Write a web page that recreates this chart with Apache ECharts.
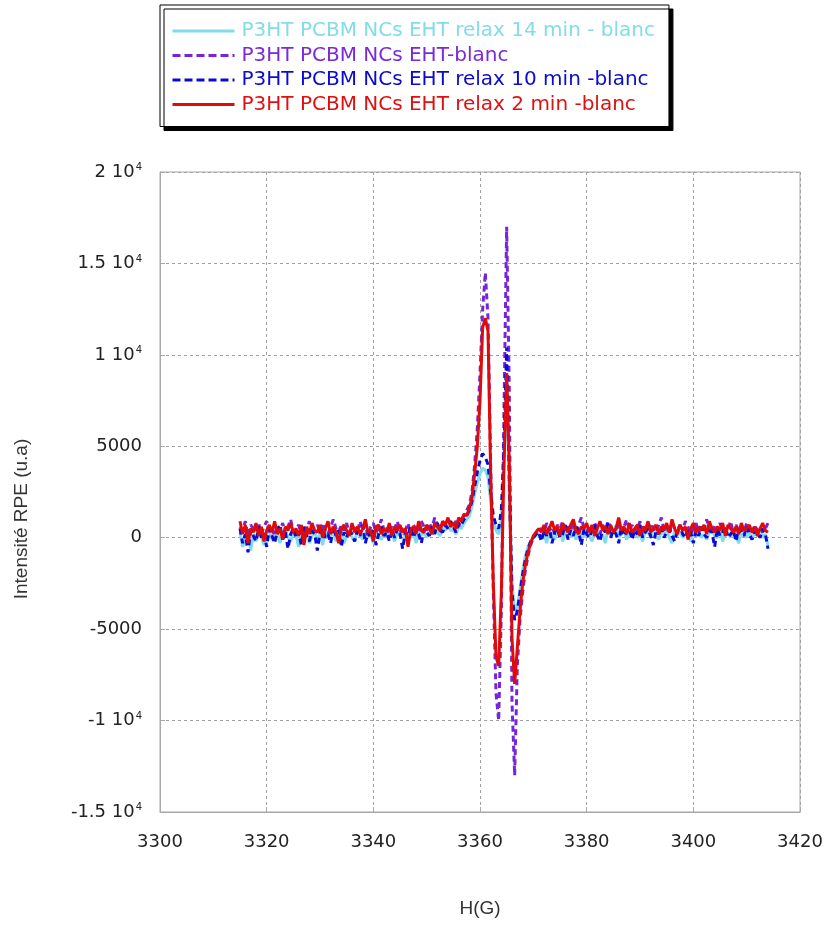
<!DOCTYPE html>
<html><head><meta charset="utf-8">
<script src="https://cdn.jsdelivr.net/npm/echarts@6/dist/echarts.min.js"></script>
<style>html,body{margin:0;padding:0;background:#fff}#c{width:824px;height:925px}</style>
</head><body><div id="c"></div>
<script>
// Field sampling: 3315 G to 3414 G, step 0.5 G (199 points)
var H_START = 3315, H_STEP = 0.5;
var xTicks = [3300, 3320, 3340, 3360, 3380, 3400, 3420];
var yTickValues = [20000, 15000, 10000, 5000, 0, -5000, -10000, -15000];
var yTickLabels = [['2 10','4'], ['1.5 10','4'], ['1 10','4'], ['5000',''], ['0',''], ['-5000',''], ['-1 10','4'], ['-1.5 10','4']];
var seriesNames = ['P3HT PCBM NCs EHT relax 14 min - blanc', 'P3HT PCBM NCs EHT-blanc', 'P3HT PCBM NCs EHT relax 10 min -blanc', 'P3HT PCBM NCs EHT relax 2 min -blanc'];

// Red: relax 2 min
var redLeft = [900,200,700,-300,500,300,800,100,600,-200,400,700,300,900,200,500,-100,600,400,800,
300,500,100,700,-400,600,200,800,400,300,700,0,500,900,200,600,300,-300,500,700,
400,100,800,300,600,200,500,1000,300,400,-200,600,700,200,500,300,800,100,600,400,
700,300,500,-500,400,600,200,900,400,300,700,500,200,800,600,400,900,700,1100,600];
var redCenter = [800,500,1100,900,1300,1200,1600,2200,3500,5000,7500,11500,12000,11300,3500,-2500,-6500,-7000,-3000,4000,9000,4000,-5500,-8000,-6000,-4000,-2500,-1500,-800,-300,100,300,500];
var redRight = [300,700,200,500,900,400,600,100,800,500,300,700,1000,400,200,600,500,800,300,700,
100,500,900,400,600,200,700,300,500,1100,400,600,200,800,300,500,700,100,600,400,
900,300,500,700,200,600,400,800,300,1000,500,200,700,400,600,-100,500,800,300,600,
400,700,200,900,500,300,600,400,800,100,700,500,300,600,200,800,400,500,700,300,
600,100,500,800,400,300];

// Purple: EHT-blanc
var purpleLeft = [600,400,900,100,700,500,300,800,200,600,900,300,500,100,700,400,800,200,600,1000,
300,500,700,200,600,400,900,100,500,700,300,800,400,200,600,1000,500,300,700,400,
800,200,600,500,300,900,400,700,100,600,800,300,500,1000,400,600,200,700,500,900,
300,600,400,800,200,700,500,300,900,600,400,800,500,1100,700,400,900,600,1000,800];
var purpleCenter = [700,900,600,1000,1200,1500,1800,2500,4000,6000,9000,12500,14500,12000,4000,-3000,-8500,-10000,-4000,7000,17000,8000,-9000,-13000,-7000,-4500,-3000,-1800,-1000,-400,0,200,400];
var purpleRight = [500,300,800,400,600,200,700,500,900,300,600,400,800,200,700,1100,500,300,600,400,
800,500,200,700,400,900,600,300,500,800,200,600,1000,400,700,300,500,900,200,600,
400,800,500,300,700,1100,400,600,200,800,500,300,700,400,900,600,200,500,800,300,
600,400,1000,500,200,700,400,800,300,600,500,900,200,700,400,600,300,800,500,200,
700,400,600,300,500,800];

// Blue: relax 10 min
var blueLeft = [500,-300,200,-800,400,100,-200,600,0,300,-500,500,100,-300,400,700,-100,300,-600,200,
500,0,300,-400,600,100,-200,400,200,-700,300,500,0,200,-300,600,100,400,-500,300,
0,500,200,-200,400,100,700,-300,300,0,500,-400,200,600,100,300,-200,400,0,500,
200,-600,300,100,600,0,400,200,-300,500,300,100,600,200,800,400,300,700,500,900];
var blueCenter = [600,300,800,700,1000,1200,1500,2000,2800,3600,4200,4600,4400,4000,2500,1200,700,500,1500,5000,10400,3000,-3000,-4500,-4000,-3000,-2000,-1200,-600,-200,0,200,300];
var blueRight = [-200,400,100,600,-300,300,500,0,200,700,-100,400,100,600,300,-400,500,200,0,400,
700,100,-200,500,300,800,0,400,200,-300,600,100,300,500,-100,400,200,700,0,300,
500,100,-400,400,200,600,0,300,500,100,-200,400,700,200,0,500,300,-300,400,100,
600,200,0,400,300,-500,500,100,300,600,0,200,400,-200,500,300,100,600,200,-100,
400,300,0,500,200,-600];

// Cyan: relax 14 min
var cyanLeft = [300,-500,0,400,-700,200,-200,300,100,-400,200,400,-100,0,300,-300,200,500,0,-200,
300,100,-500,200,0,400,-300,100,300,-100,200,-400,400,0,100,300,-200,200,500,-300,
100,300,0,-200,400,200,-100,300,0,200,-300,400,100,-100,300,0,500,200,-200,300,
100,400,-100,200,0,300,-300,500,100,300,0,400,200,600,300,100,500,400,700,400];
var cyanCenter = [400,200,600,500,800,1000,1200,1700,2400,3000,3500,3800,3700,3300,2000,1000,400,200,1000,4000,8500,2500,-2500,-4000,-3800,-2800,-1800,-1000,-500,-200,0,100,200];
var cyanRight = [0,200,-300,400,100,-100,300,500,-200,200,400,0,300,-100,500,200,0,600,100,-200,
300,400,0,200,-300,500,100,300,700,0,200,400,-100,300,100,500,0,200,-200,400,
300,0,600,100,-100,300,200,500,0,-300,400,100,300,0,200,500,-200,300,100,400,
0,200,-100,300,500,100,0,400,-200,200,300,0,500,100,-300,300,200,0,400,-100,
300,100,500,0,200,-400];

var colors = ['#80dcea', '#7626d6', '#0a0ad8', '#e00a0a'];
var textColors = ['#80dde9', '#7a2ad8', '#0a0ad0', '#e01010'];

function pair(vals) {
  var out = [];
  for (var i = 0; i < vals.length; i++) out.push([H_START + H_STEP * i, vals[i]]);
  return out;
}
var allVals = [
  cyanLeft.concat(cyanCenter, cyanRight),
  purpleLeft.concat(purpleCenter, purpleRight),
  blueLeft.concat(blueCenter, blueRight),
  redLeft.concat(redCenter, redRight)
];
var dashTypes = ['solid', [6, 4], [6, 4], 'solid'];
var legendDash = ['solid', [8, 4], [8, 4], 'solid'];

var chart = echarts.init(document.getElementById('c'));
var font = '"Liberation Sans", Arial, sans-serif';
var tickFont = '"DejaVu Sans", sans-serif';
chart.setOption({
  animation: false,
  backgroundColor: '#ffffff',
  textStyle: {fontFamily: font},
  grid: {left: 160, right: 24, top: 172, bottom: 113, show: true, borderColor: '#a8a8a8', borderWidth: 1,
    containLabel: false, outerBoundsMode: 'none'},
  legend: {
    orient: 'vertical', left: 160, top: 5,
    padding: [16, 14, 12, 11],
    itemGap: 4.5, itemWidth: 62, itemHeight: 19,
    backgroundColor: '#ffffff', borderColor: '#000', borderWidth: 1,
    shadowColor: '#000', shadowBlur: 0, shadowOffsetX: 4, shadowOffsetY: 4,
    itemStyle: {opacity: 0},
    lineStyle: {width: 3},
    textStyle: {fontSize: 20, fontFamily: tickFont, padding: [0, 0, 0, 2]},
    data: seriesNames.map(function (n, i) {
      return {name: n, textStyle: {color: textColors[i]}, lineStyle: {type: legendDash[i], width: 3}};
    })
  },
  xAxis: {
    type: 'value', min: 3300, max: 3420, interval: 20,
    axisLine: {show: true, onZero: false, lineStyle: {color: '#a8a8a8'}},
    axisTick: {show: true, inside: true, length: 5, lineStyle: {color: '#a8a8a8'}},
    axisLabel: {margin: 21, fontSize: 18, color: '#222', fontFamily: tickFont,
      formatter: function (v) { return xTicks.indexOf(v) >= 0 ? String(v) : ''; }},
    splitLine: {show: true, lineStyle: {color: '#a0a0a0', type: [3, 3]}},
    name: 'H(G)', nameLocation: 'middle', nameGap: 87,
    nameTextStyle: {fontSize: 19, color: '#333', fontFamily: font}
  },
  yAxis: {
    type: 'value', min: -15000, max: 20000, interval: 5000,
    axisLine: {show: true, onZero: false, lineStyle: {color: '#a8a8a8'}},
    axisTick: {show: true, inside: true, length: 5, lineStyle: {color: '#a8a8a8'}},
    axisLabel: {margin: 18, fontSize: 18, color: '#222', fontFamily: tickFont,
      formatter: function (v) {
        var k = yTickValues.indexOf(v);
        if (k < 0) return '';
        var p = yTickLabels[k];
        return p[1] ? '{a|' + p[0] + '}{s|' + p[1] + '}' : '{a|' + p[0] + '}';
      },
      rich: {
        a: {fontSize: 18, color: '#222', fontFamily: tickFont},
        s: {fontSize: 10, color: '#222', fontFamily: tickFont, verticalAlign: 'top', padding: [0, 0, 9, 1]}
      }
    },
    splitLine: {show: true, lineStyle: {color: '#a0a0a0', type: [3, 3]}},
    name: 'Intensité RPE (u.a)', nameLocation: 'middle', nameGap: 129, nameRotate: 90,
    nameTextStyle: {fontSize: 19, color: '#333', fontFamily: font, padding: [0, 54, 0, 0]}
  },
  series: allVals.map(function (vals, i) {
    return {
      name: seriesNames[i], type: 'line', data: pair(vals), symbol: 'none', showSymbol: false,
      lineStyle: {color: colors[i], width: 3, type: dashTypes[i]},
      itemStyle: {color: colors[i]},
      z: 2 + i
    };
  })
});
</script></body></html>
